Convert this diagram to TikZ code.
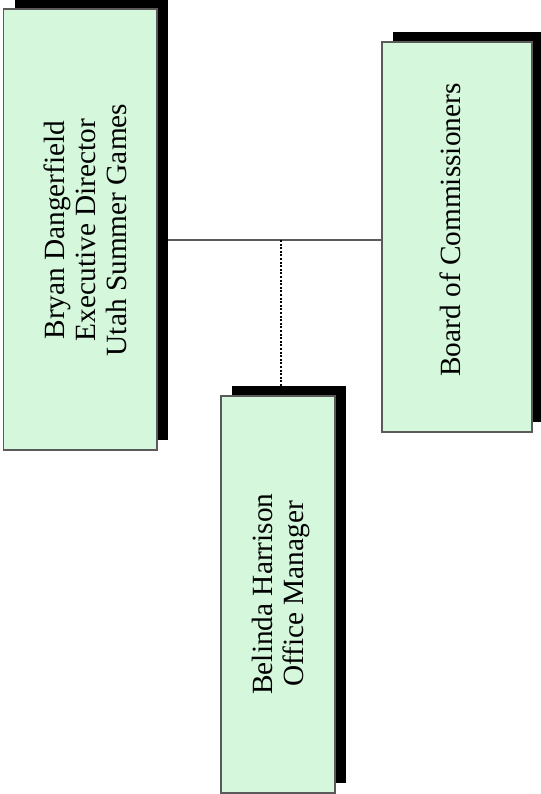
\documentclass[tikz,border=0pt]{standalone}
\usepackage{fontspec}
\setmainfont{Liberation Serif}
\usetikzlibrary{calc}
\usetikzlibrary{backgrounds}
\usetikzlibrary{shadows}

\definecolor{boxgreen}{HTML}{D5F8DD}
\definecolor{edgegray}{HTML}{5A5A5A}

\begin{document}
\begin{tikzpicture}[x=0.75pt,y=-0.75pt]
\tikzstyle{box}=[draw=edgegray, line width=0.9pt, fill=boxgreen, rectangle, inner sep=0pt, drop shadow={shadow xshift=8.25pt, shadow yshift=7.5pt, fill=black, opacity=1}]
\tikzstyle{txt}=[rotate=90, align=center, inner sep=0pt, font=\fontsize{22}{23.25}\selectfont]
\tikzstyle{link}=[draw=edgegray, line width=0.8pt]
\tikzstyle{dotlink}=[draw=black, line width=1.6pt, dash pattern=on 1.5pt off 1.2pt]

\useasboundingbox (0,0) rectangle (541,794);

\node (bryan) at (80.25,229.5) [box, minimum width=115.1pt, minimum height=330.75pt] {};
\node (board) at (457,237) [box, minimum width=112.5pt, minimum height=292.5pt] {};
\node (belinda) at (278,594.5) [box, minimum width=85.5pt, minimum height=297.75pt] {};

\node (bryantxt) at (85.8,230) [txt] {Bryan Dangerfield\\Executive Director\\Utah Summer Games};
\node (boardtxt) at (450,230) [txt] {Board of Commissioners};
\node (belindatxt) at (281,594) [txt] {Belinda Harrison\\Office Manager};

\coordinate (hub) at (281,240);

\begin{pgfonlayer}{background}
\draw[link] (bryan.east |- hub) -- (board.west |- hub);
\draw[dotlink] (hub) -- (hub |- belinda.north);
\end{pgfonlayer}

\end{tikzpicture}
\end{document}
